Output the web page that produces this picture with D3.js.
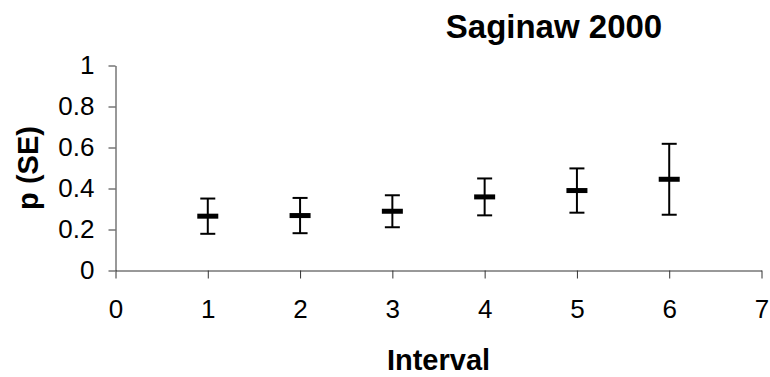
<!DOCTYPE html>
<html>
<head>
<meta charset="utf-8">
<script src="https://cdn.jsdelivr.net/npm/d3@7"></script>
<style>
  html, body { margin: 0; padding: 0; background: #fff; }
  svg { display: block; }
  text { font-family: "Liberation Sans", Arial, sans-serif; fill: #000; }
</style>
</head>
<body>
<svg id="chart" width="770" height="377"></svg>
<script>
// ---- data ----
const intervals = [1, 2, 3, 4, 5, 6];
const pValues   = [0.265, 0.268, 0.289, 0.359, 0.390, 0.445];
const seValues  = [0.086, 0.086, 0.078, 0.090, 0.108, 0.173];
const xTicks    = [0, 1, 2, 3, 4, 5, 6, 7];
const yTicks    = [0, 0.2, 0.4, 0.6, 0.8, 1];
const yTickLabels = ["0", "0.2", "0.4", "0.6", "0.8", "1"];
const chartTitle = "Saginaw 2000";
const xTitle = "Interval";
const yTitle = "p (SE)";

// ---- chart ----
const svg = d3.select("#chart");
const x = d3.scaleLinear().domain([0, 7]).range([115.5, 761.5]);
const y = d3.scaleLinear().domain([0, 1]).range([270.5, 65.5]);

const axisColor = "#333";

const xAxis = svg.append("g")
  .attr("transform", `translate(0,${y(0)})`)
  .call(d3.axisBottom(x).tickValues(xTicks).tickFormat(d3.format("d"))
        .tickSize(8).tickSizeOuter(0).tickPadding(8));
xAxis.selectAll("text").attr("font-size", 26).attr("dy", "0.71em").attr("y", 29);

const yAxis = svg.append("g")
  .attr("transform", `translate(${x(0)},0)`)
  .call(d3.axisLeft(y).tickValues(yTicks).tickFormat((d, i) => yTickLabels[i])
        .tickSize(7).tickSizeOuter(0).tickPadding(14));
yAxis.selectAll("text").attr("font-size", 26);

svg.selectAll(".domain, .tick line").attr("stroke", axisColor).attr("stroke-width", 1);

// error bars
const data = intervals.map((d, i) => ({ x: d, p: pValues[i], se: seValues[i] }));
const g = svg.append("g");
const capW = 15, markW = 21, markH = 5;

g.selectAll("line.err").data(data).enter().append("line")
  .attr("class", "err")
  .attr("x1", d => x(d.x)).attr("x2", d => x(d.x))
  .attr("y1", d => y(d.p + d.se)).attr("y2", d => y(d.p - d.se))
  .attr("stroke", "#000").attr("stroke-width", 2);

g.selectAll("line.capT").data(data).enter().append("line")
  .attr("x1", d => x(d.x) - capW / 2).attr("x2", d => x(d.x) + capW / 2)
  .attr("y1", d => y(d.p + d.se)).attr("y2", d => y(d.p + d.se))
  .attr("stroke", "#000").attr("stroke-width", 2);

g.selectAll("line.capB").data(data).enter().append("line")
  .attr("x1", d => x(d.x) - capW / 2).attr("x2", d => x(d.x) + capW / 2)
  .attr("y1", d => y(d.p - d.se)).attr("y2", d => y(d.p - d.se))
  .attr("stroke", "#000").attr("stroke-width", 2);

g.selectAll("rect.mark").data(data).enter().append("rect")
  .attr("x", d => x(d.x) - markW / 2)
  .attr("y", d => y(d.p) - markH / 2)
  .attr("width", markW).attr("height", markH)
  .attr("fill", "#000");

// titles
svg.append("text")
  .attr("x", 554).attr("y", 38)
  .attr("text-anchor", "middle")
  .attr("font-size", 33).attr("font-weight", "bold")
  .text(chartTitle);

svg.append("text")
  .attr("x", (x(0) + x(7)) / 2).attr("y", 370)
  .attr("text-anchor", "middle")
  .attr("font-size", 29).attr("font-weight", "bold")
  .text(xTitle);

svg.append("text")
  .attr("transform", `translate(38,${(y(0) + y(1)) / 2}) rotate(-90)`)
  .attr("text-anchor", "middle")
  .attr("font-size", 29).attr("font-weight", "bold")
  .text(yTitle);
</script>
</body>
</html>
